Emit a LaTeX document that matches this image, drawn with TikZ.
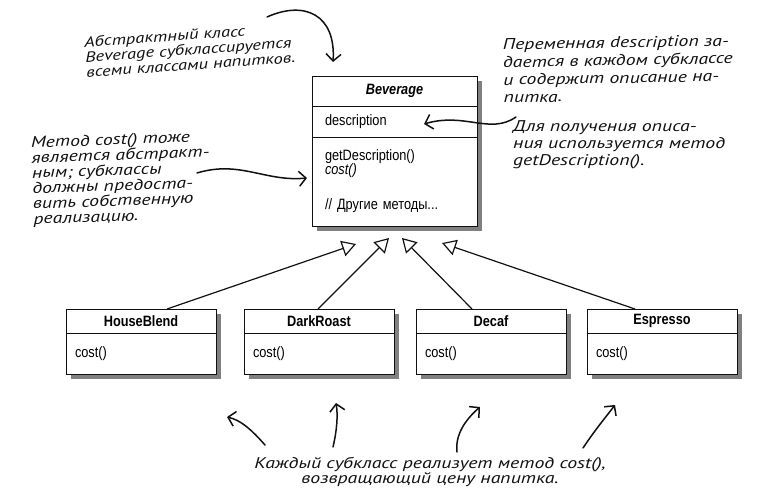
\documentclass[tikz,border=0pt]{standalone}
\usepackage{fontspec}
\setmainfont{Liberation Sans}
\newfontfamily\umlfont{Liberation Sans}[FakeStretch=0.85]
\newfontfamily\handfont{PT Sans}[FakeStretch=1.28]
\usepackage{tikz}
\usetikzlibrary{positioning, arrows.meta, calc}
\usepackage{xcolor}
\definecolor{ink}{HTML}{111111}

\begin{document}
\begin{tikzpicture}[x=1pt, y=-1pt,
    clsbox/.style={draw=ink, line width=0.9pt, fill=white, outer sep=0pt,
      font=\umlfont\fontsize{15}{14}\selectfont},
    bevhead/.style={clsbox, minimum height=30pt, text width=165pt, inner xsep=0pt, align=center},
    bevpart/.style={clsbox, text width=139pt, inner xsep=13pt, align=left},
    subhead/.style={clsbox, minimum height=24pt, text width=150pt, inner xsep=0pt, align=center},
    subpart/.style={clsbox, minimum height=41pt, text width=132pt, inner xsep=9pt, align=left},
    castshadow/.style={fill=black!50, draw=none},
    inherit/.style={draw=ink, line width=1.2pt, -{Triangle[open, length=14pt, width=16pt, line width=1.2pt]}},
    scribble/.style={font=\handfont\itshape\fontsize{15.5}{#1}\selectfont, align=left, inner sep=0pt, text=ink},
    scribble/.default=15.5,
    note/.style={draw=ink, line width=1.5pt, line cap=round, -{Straight Barb[length=7pt, width=15pt, line width=1.5pt]}}]
  \useasboundingbox (0,0) rectangle (765,497);

  % abstract class
  \node[bevhead] (bev) at (394.5,91) {\textbf{\textit{Beverage}}};
  \node[bevpart, minimum height=31pt, below=0pt of bev] (bevattr) {description};
  \node[bevpart, minimum height=89pt, below=0pt of bevattr] (bevops)
    {getDescription()\\\textit{cost()}\\[21pt]// Другие методы...};
  \path[castshadow] ($(bev.north east)+(0.5,5)$) rectangle ($(bevops.south east)+(5,0.5)$);
  \path[castshadow] ($(bevops.south west)+(5,0.5)$) rectangle ($(bevops.south east)+(5,5)$);

  % concrete beverages
  \foreach \cls/\name/\x in {hb/HouseBlend/141, dr/DarkRoast/319, dc/Decaf/491, es/Espresso/662}{
    \node[subhead] (\cls) at (\x,321) {\textbf{\name}};
    \node[subpart, below=0pt of \cls] (\cls-ops) {cost()};
    \path[castshadow] ($(\cls.north east)+(0.5,5)$) rectangle ($(\cls-ops.south east)+(5,0.5)$);
    \path[castshadow] ($(\cls-ops.south west)+(5,0.5)$) rectangle ($(\cls-ops.south east)+(5,5)$);
  }

  % inheritance
  \coordinate (g1) at ($(bevops.south)+(-38.5,18)$);
  \coordinate (g2) at ($(bevops.south)+(-5.5,12)$);
  \coordinate (g3) at ($(bevops.south)+(7.5,12)$);
  \coordinate (g4) at ($(bevops.south)+(47.5,17)$);
  \foreach \cls/\dx/\tip in {hb/26/g1, dr/-1/g2, dc/-19/g3, es/-27/g4}
    \draw[inherit] ($(\cls.north)+(\dx,0)$) -- (\tip);

  % notes
  \node[scribble=15, font=\handfont\itshape\fontsize{14.6}{15}\selectfont, anchor=west, rotate=4] (nAbstract) at (85,57)
    {Абстрактный класс\\Beverage субклассируется\\всеми классами напитков.};
  \node[scribble=17.7, anchor=west, rotate=1] (nDescr) at (503,71)
    {Переменная description за-\\дается в каждом субклассе\\и содержит описание на-\\питка.};
  \node[scribble=17, anchor=west] (nGetDescr) at (513,145)
    {Для получения описа-\\ния используется метод\\getDescription().};
  \node[scribble=15.3, anchor=west, rotate=2] (nCost) at (32,182)
    {Метод cost() тоже\\является абстракт-\\ным; субклассы\\должны предоста-\\вить собственную\\реализацию.};
  \node[scribble, align=center] (nEach) at (430,472)
    {Каждый субкласс реализует метод cost(),\\возвращающий цену напитка.};

  % note arrows
  \coordinate (s1) at (267,17);   \coordinate (t1) at (333,62);
  \coordinate (s2) at (516,117);  \coordinate (t2) at (424,124);
  \coordinate (s3) at (197,173);  \coordinate (t3) at (307,178);
  \draw[note] (s1) .. controls (305,0) and (336,15) .. (t1);
  \draw[note] (s2) .. controls (490,135) and (465,112) .. (t2);
  \draw[note] (s3) .. controls (240,160) and (265,182) .. (t3);

  \coordinate (e1) at (265,445);  \coordinate (f1) at (227,417);
  \coordinate (e2) at (333,447);  \coordinate (f2) at (336,403);
  \coordinate (e3) at (457,452);  \coordinate (f3) at (480,407);
  \coordinate (e4) at (583,448);  \coordinate (f4) at (615,405);
  \draw[note] (e1) .. controls (250,428) and (240,420) .. (f1);
  \draw[note] (e2) .. controls (337,430) and (338,415) .. (f2);
  \draw[note] (e3) .. controls (455,435) and (465,420) .. (f3);
  \draw[note] (e4) .. controls (595,430) and (605,418) .. (f4);
\end{tikzpicture}
\end{document}
